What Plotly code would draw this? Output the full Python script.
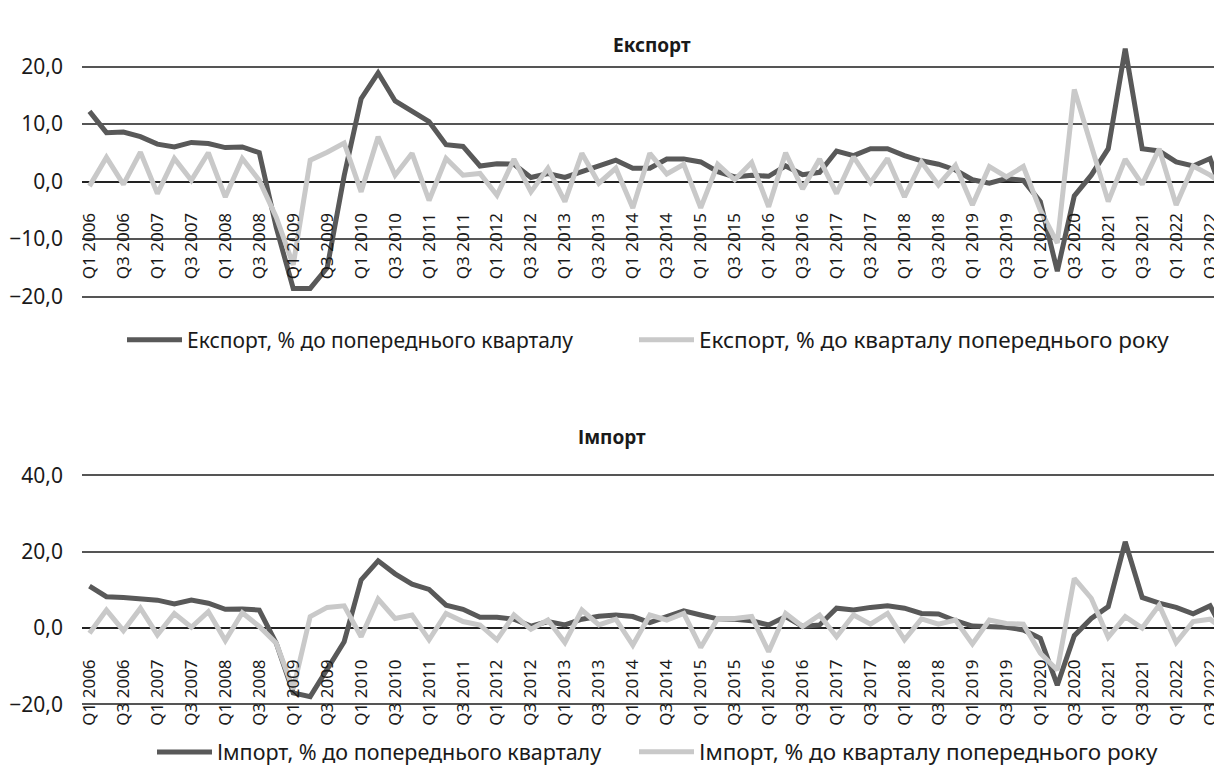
import plotly.graph_objects as go

# ---------------- data ----------------
years = list(range(2006, 2023))
quarter_names = ["Q1", "Q2", "Q3", "Q4"]
quarters = [f"{q} {y}" for y in years for q in quarter_names]
tick_labels = quarters[::2]

exp_qoq = [12.2, 8.5, 8.6, 7.8, 6.5, 6.0, 6.8, 6.6, 5.9, 6.0, 5.0, -8.0,
           -18.6, -18.6, -15.0, 1.0, 14.4, 18.9, 14.0, 12.1, 10.4, 6.4, 6.1, 2.7,
           3.1, 3.0, 0.7, 1.4, 0.7, 1.7, 2.8, 3.7, 2.3, 2.3, 3.9, 3.9,
           3.4, 1.7, 0.8, 1.1, 0.9, 2.7, 1.2, 1.6, 5.3, 4.5, 5.7, 5.7,
           4.5, 3.6, 3.0, 2.0, 0.3, -0.3, 0.5, 0.2, -3.5, -15.6, -2.5, 1.1,
           5.7, 23.1, 5.7, 5.3, 3.4, 2.7, 4.0, -4.5]

exp_yoy = [-0.8, 4.2, -0.5, 5.1, -2.1, 4.0, 0.2, 5.0, -2.7, 4.0, 0.2, -6.2,
           -14.5, 3.7, 5.1, 6.7, -1.8, 7.8, 1.1, 4.9, -3.3, 4.0, 1.1, 1.4,
           -2.4, 3.9, -1.8, 2.3, -3.5, 4.9, -0.3, 2.3, -4.6, 4.9, 1.3, 3.0,
           -4.6, 3.0, 0.3, 3.3, -4.4, 5.0, -1.3, 3.9, -2.1, 4.3, -0.2, 4.0,
           -2.7, 3.4, -0.6, 2.8, -4.1, 2.6, 0.8, 2.6, -5.0, -10.7, 16.0, 6.5,
           -3.5, 3.9, -0.5, 5.7, -4.1, 2.7, 1.1, -1.0]

imp_qoq = [11.0, 8.2, 8.0, 7.8, 7.3, 6.3, 7.3, 6.5, 4.9, 5.0, 4.7, -4.0,
           -17.0, -18.0, -11.0, -3.6, 12.6, 17.6, 14.2, 11.5, 10.1, 6.0, 4.9, 2.8,
           2.8, 2.3, 0.5, 1.7, 0.8, 2.3, 3.1, 3.4, 3.0, 1.4, 3.0, 4.5,
           3.4, 2.4, 2.3, 1.9, 0.8, 3.0, 0.4, 0.8, 5.2, 4.7, 5.4, 5.8,
           5.2, 3.8, 3.7, 1.9, 0.5, 0.3, 0.2, -0.5, -2.7, -15.0, -2.0, 2.5,
           5.6, 22.6, 8.0, 6.5, 5.4, 3.7, 5.8, -2.5]

imp_yoy = [-1.4, 4.7, -0.7, 5.2, -1.8, 3.8, 0.2, 4.3, -3.3, 4.0, 0.4, -4.0,
           -16.0, 3.0, 5.4, 5.8, -2.3, 7.6, 2.5, 3.4, -3.1, 3.8, 1.7, 0.8,
           -3.1, 3.4, -0.3, 2.1, -3.8, 4.7, 0.8, 2.3, -4.5, 3.4, 2.1, 3.8,
           -5.1, 2.5, 2.5, 3.0, -6.2, 3.8, 0.4, 3.4, -2.3, 3.4, 1.0, 3.8,
           -3.1, 2.4, 1.0, 2.1, -4.2, 2.1, 1.2, 1.0, -6.6, -11.0, 13.0, 7.8,
           -2.4, 3.0, 0.0, 6.0, -3.8, 1.7, 2.3, -1.0]

names = {
    "exp_qoq": "Експорт, % до попереднього кварталу",
    "exp_yoy": "Експорт, % до кварталу попереднього року",
    "imp_qoq": "Імпорт, % до попереднього кварталу",
    "imp_yoy": "Імпорт, % до кварталу попереднього року",
}
titles = ["Експорт", "Імпорт"]

# ---------------- layout helpers ----------------
# the page body has an 8px margin, so figure pixels = screen pixels - 8
W, H = 1214, 774
OFF = 8
FONT = "Noto Sans"
DARK = "#595959"
LIGHT = "#c9c9c9"
TEXT = "#1a1a1a"


def domain_for(zero_px, ppu, r0, r1):
    z = zero_px - OFF
    return [1 - (z - r0 * ppu) / H, 1 - (z - r1 * ppu) / H]


exp_range = [-20.3, 24.5]
imp_range = [-20.3, 40.5]
exp_dom = domain_for(181.5, 5.75, *exp_range)
imp_dom = domain_for(628.0, 3.815, *imp_range)


def zero_pos(dom, rng):
    return dom[0] + (0 - rng[0]) / (rng[1] - rng[0]) * (dom[1] - dom[0])


x_dom = [(82 - OFF) / W, 1.0]
x_range = [-0.44, 66.7]

fig = go.Figure()
fig.add_trace(go.Scatter(x=quarters, y=exp_qoq, name=names["exp_qoq"], mode="lines",
                         line=dict(color=DARK, width=5), xaxis="x", yaxis="y",
                         legend="legend", showlegend=True))
fig.add_trace(go.Scatter(x=quarters, y=exp_yoy, name=names["exp_yoy"], mode="lines",
                         line=dict(color=LIGHT, width=5), xaxis="x", yaxis="y",
                         legend="legend2", showlegend=True))
fig.add_trace(go.Scatter(x=quarters, y=imp_qoq, name=names["imp_qoq"], mode="lines",
                         line=dict(color=DARK, width=5), xaxis="x2", yaxis="y2",
                         legend="legend3", showlegend=True))
fig.add_trace(go.Scatter(x=quarters, y=imp_yoy, name=names["imp_yoy"], mode="lines",
                         line=dict(color=LIGHT, width=5), xaxis="x2", yaxis="y2",
                         legend="legend4", showlegend=True))

xcommon = dict(type="category", range=x_range, domain=x_dom, anchor="free",
               tickmode="array", tickvals=tick_labels, ticktext=tick_labels,
               tickangle=-90, showgrid=False, showline=False, zeroline=False, ticks="",
               ticklabelstandoff=27, tickfont=dict(family=FONT, size=17, color=TEXT),
               automargin=False, fixedrange=True)
ycommon = dict(tick0=0, tickformat=".1f", showgrid=True, gridcolor="#555555",
               gridwidth=1.6, zeroline=True, zerolinecolor="#222222", zerolinewidth=1.6,
               showline=False, ticks="", ticklabelstandoff=18,
               tickfont=dict(family=FONT, size=21, color=TEXT), automargin=False)


def legend_at(sample_x, y_px, size):
    # sample_x: screen x where the legend line sample begins
    return dict(orientation="h", x=(sample_x - OFF - 6) / W, y=1 - (y_px - OFF) / H,
                xanchor="left", yanchor="middle", itemwidth=55, visible=True,
                font=dict(family=FONT, size=size, color=TEXT), bgcolor="rgba(0,0,0,0)")


fig.update_layout(
    width=W, height=H,
    margin=dict(l=0, r=0, t=0, b=0),
    paper_bgcolor="white", plot_bgcolor="white",
    separators=", ",
    showlegend=True,
    font=dict(family=FONT, color=TEXT),
    xaxis=dict(**xcommon, position=zero_pos(exp_dom, exp_range)),
    yaxis=dict(**ycommon, domain=exp_dom, range=exp_range, anchor="x", dtick=10),
    xaxis2=dict(**xcommon, position=zero_pos(imp_dom, imp_range)),
    yaxis2=dict(**ycommon, domain=imp_dom, range=imp_range, anchor="x2", dtick=20),
    legend=legend_at(128, 340, 21),
    legend2=legend_at(640, 340, 22.5),
    legend3=legend_at(158, 752, 21.5),
    legend4=legend_at(640, 752, 22.5),
    annotations=[
        dict(text=f"<b>{titles[0]}</b>", x=(652 - OFF) / W, y=1 - (30 - OFF) / H, xref="paper",
             yref="paper", showarrow=False, font=dict(family=FONT, size=19, color=TEXT)),
        dict(text=f"<b>{titles[1]}</b>", x=(612 - OFF) / W, y=1 - (437 - OFF) / H, xref="paper",
             yref="paper", showarrow=False, font=dict(family=FONT, size=19, color=TEXT)),
    ],
)

fig.write_html("out.html")
